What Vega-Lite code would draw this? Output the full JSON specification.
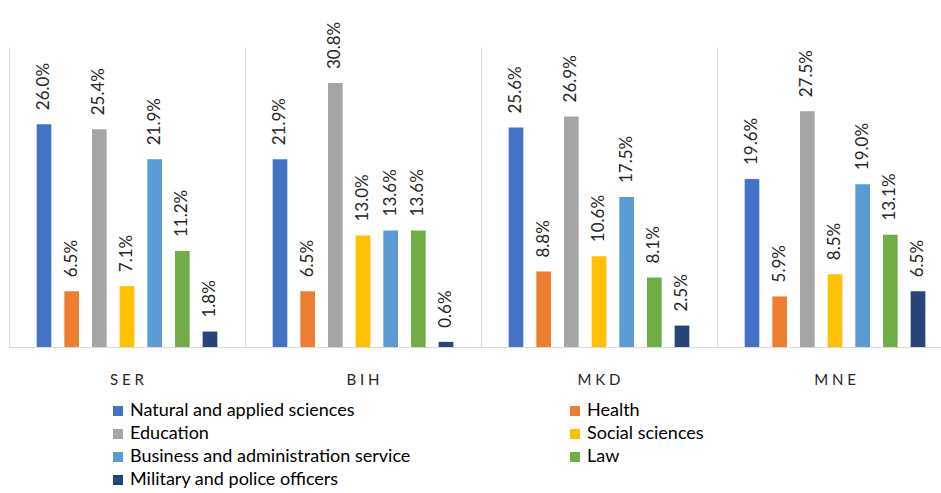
{
  "$schema": "https://vega.github.io/schema/vega-lite/v6.json",
  "autosize": {"type": "none"},
  "width": 932,
  "height": 300,
  "padding": {"left": 9, "top": 47, "right": 0, "bottom": 146},
  "background": "white",
  "config": {"view": {"stroke": null}, "font": "Lato"},
  "data": {"values": [
    {"country": "SER", "field": "Natural and applied sciences", "pct": 26.0},
    {"country": "SER", "field": "Health", "pct": 6.5},
    {"country": "SER", "field": "Education", "pct": 25.4},
    {"country": "SER", "field": "Social sciences", "pct": 7.1},
    {"country": "SER", "field": "Business and administration service", "pct": 21.9},
    {"country": "SER", "field": "Law", "pct": 11.2},
    {"country": "SER", "field": "Military and police officers", "pct": 1.8},
    {"country": "BIH", "field": "Natural and applied sciences", "pct": 21.9},
    {"country": "BIH", "field": "Health", "pct": 6.5},
    {"country": "BIH", "field": "Education", "pct": 30.8},
    {"country": "BIH", "field": "Social sciences", "pct": 13.0},
    {"country": "BIH", "field": "Business and administration service", "pct": 13.6},
    {"country": "BIH", "field": "Law", "pct": 13.6},
    {"country": "BIH", "field": "Military and police officers", "pct": 0.6},
    {"country": "MKD", "field": "Natural and applied sciences", "pct": 25.6},
    {"country": "MKD", "field": "Health", "pct": 8.8},
    {"country": "MKD", "field": "Education", "pct": 26.9},
    {"country": "MKD", "field": "Social sciences", "pct": 10.6},
    {"country": "MKD", "field": "Business and administration service", "pct": 17.5},
    {"country": "MKD", "field": "Law", "pct": 8.1},
    {"country": "MKD", "field": "Military and police officers", "pct": 2.5},
    {"country": "MNE", "field": "Natural and applied sciences", "pct": 19.6},
    {"country": "MNE", "field": "Health", "pct": 5.9},
    {"country": "MNE", "field": "Education", "pct": 27.5},
    {"country": "MNE", "field": "Social sciences", "pct": 8.5},
    {"country": "MNE", "field": "Business and administration service", "pct": 19.0},
    {"country": "MNE", "field": "Law", "pct": 13.1},
    {"country": "MNE", "field": "Military and police officers", "pct": 6.5}
  ]},
  "transform": [{"calculate": "format(datum.pct, '.1f') + '%'", "as": "label"}],
  "encoding": {
    "x": {
      "field": "country", "type": "nominal", "sort": ["SER", "BIH", "MKD", "MNE"],
      "scale": {"range": [0, 944], "paddingInner": 0, "paddingOuter": 0},
      "axis": {
        "title": null, "labelAngle": 0, "ticks": false, "grid": true, "bandPosition": 0,
        "gridColor": "#D9D9D9", "gridWidth": 1, "domainColor": "#D9D9D9", "domainWidth": 1,
        "labelFontSize": 15, "labelColor": "#262626", "labelPadding": 25,
        "labelExpr": "join(split(datum.label, ''), ' ')"
      }
    },
    "xOffset": {
      "field": "field", "type": "nominal",
      "sort": ["Natural and applied sciences", "Health", "Education", "Social sciences", "Business and administration service", "Law", "Military and police officers"],
      "scale": {"paddingInner": 0.47, "paddingOuter": 1.17}
    },
    "y": {"field": "pct", "type": "quantitative", "scale": {"domain": [0, 35], "nice": false}, "axis": null}
  },
  "layer": [
    {
      "mark": {"type": "bar"},
      "encoding": {
        "color": {
          "field": "field", "type": "nominal",
          "scale": {
            "domain": ["Natural and applied sciences", "Health", "Education", "Social sciences", "Business and administration service", "Law", "Military and police officers"],
            "range": ["#4472C4", "#ED7D31", "#A5A5A5", "#FFC000", "#5B9BD5", "#70AD47", "#264478"]
          },
          "legend": {
            "title": null, "orient": "none", "legendX": 100, "legendY": 355,
            "values": ["Natural and applied sciences", "Education", "Business and administration service", "Military and police officers", "Health", "Social sciences", "Law"],
            "columns": 2, "columnPadding": 155, "rowPadding": 5,
            "symbolType": "square", "symbolSize": 100, "symbolStrokeWidth": 0,
            "labelFontSize": 18, "labelColor": "#000000", "labelOffset": 3, "labelLimit": 400
          }
        }
      }
    },
    {
      "mark": {"type": "text", "angle": -90, "align": "left", "baseline": "middle", "dx": 14, "fontSize": 17, "color": "#262626"},
      "encoding": {"text": {"field": "label"}}
    }
  ]
}
